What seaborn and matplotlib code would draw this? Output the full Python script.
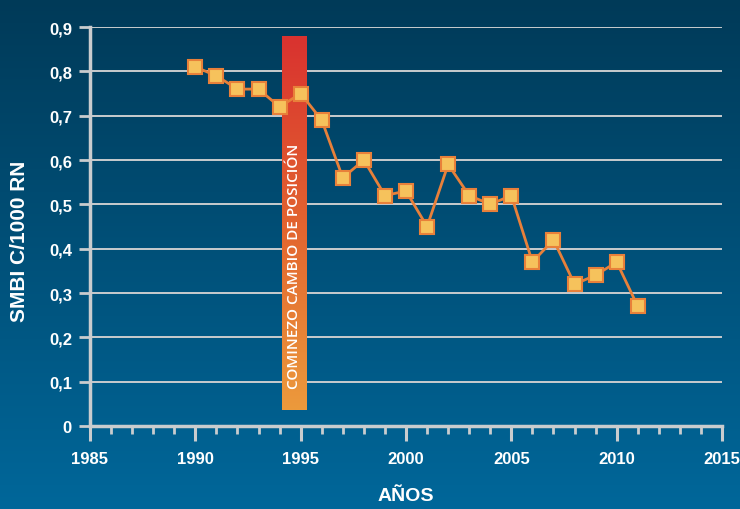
import numpy as np
import matplotlib
matplotlib.use("Agg")
import matplotlib.pyplot as plt
from matplotlib.colors import LinearSegmentedColormap
from matplotlib.ticker import MultipleLocator, FuncFormatter
import seaborn as sns

years = [1990, 1991, 1992, 1993, 1994, 1995, 1996, 1997, 1998, 1999, 2000,
         2001, 2002, 2003, 2004, 2005, 2006, 2007, 2008, 2009, 2010, 2011]
smbi = [0.81, 0.79, 0.76, 0.76, 0.72, 0.75, 0.69, 0.56, 0.60, 0.52, 0.53,
        0.45, 0.59, 0.52, 0.50, 0.52, 0.37, 0.42, 0.32, 0.34, 0.37, 0.27]

# marker bar for the change of position
bar_years = [1994.1, 1995.25]
bar_range = [0.036, 0.878]
bar_label = "COMINEZO CAMBIO DE POSICIÓN"

sns.set_theme(style="ticks")
plt.rcParams["font.family"] = ["Liberation Sans", "DejaVu Sans"]

fig = plt.figure(figsize=(7.4, 5.1), dpi=100)

# blue gradient background
bg = fig.add_axes([0, 0, 1, 1], zorder=-10)
bg_cmap = LinearSegmentedColormap.from_list("bg", ["#003a58", "#00679a"])
bg.imshow(np.linspace(0, 1, 256).reshape(-1, 1), aspect="auto", cmap=bg_cmap,
          extent=[0, 1, 0, 1], origin="upper")
bg.axis("off")

ax = fig.add_axes([0.1216, 0.1627, 0.8541, 0.7823])
ax.set_facecolor("none")

grid_c = "#c9ccce"
for v in np.arange(0.1, 0.91, 0.1):
    ax.axhline(v, color=grid_c, lw=1.4, zorder=0.5)

# gradient bar
bar_cmap = LinearSegmentedColormap.from_list("bar", ["#d93230", "#e2632f", "#ec9a3c"])
ax.imshow(np.linspace(0, 1, 256).reshape(-1, 1), aspect="auto", cmap=bar_cmap,
          extent=[bar_years[0], bar_years[1], bar_range[0], bar_range[1]],
          origin="upper", zorder=1)
ax.text(sum(bar_years) / 2, bar_range[0] + 0.05, bar_label, rotation=90,
        ha="center", va="bottom", color="white", fontsize=11,
        family=["Open Sans", "DejaVu Sans"], fontweight="semibold", zorder=2)

sns.lineplot(x=years, y=smbi, ax=ax, color="#e8803a", lw=2, marker="s",
             markersize=10.5, markerfacecolor="#f6c25c", markeredgecolor="#e8803a",
             markeredgewidth=1.5, zorder=3, clip_on=False)

ax.set_xlim(1985, 2015)
ax.set_ylim(0, 0.9)
ax.xaxis.set_major_locator(MultipleLocator(5))
ax.xaxis.set_minor_locator(MultipleLocator(1))
ax.yaxis.set_major_locator(MultipleLocator(0.1))
ax.yaxis.set_major_formatter(FuncFormatter(
    lambda v, p: "0" if abs(v) < 1e-9 else f"{v:.1f}".replace(".", ",")))

for s in ["top", "right"]:
    ax.spines[s].set_visible(False)
for s in ["left", "bottom"]:
    ax.spines[s].set_color(grid_c)
    ax.spines[s].set_linewidth(2.5)
    ax.spines[s].set_zorder(2.5)

ax.tick_params(axis="x", which="major", length=11, width=2.2, color=grid_c,
               labelcolor="white", labelsize=12, pad=7)
ax.tick_params(axis="x", which="minor", length=6, width=2, color=grid_c)
ax.tick_params(axis="y", which="major", length=8, width=2, color=grid_c,
               labelcolor="white", labelsize=12, pad=5)
for lab in ax.get_xticklabels() + ax.get_yticklabels():
    lab.set_fontweight("bold")

ax.set_xlabel("AÑOS", color="white", fontsize=14, fontweight="bold")
ax.set_ylabel("SMBI C/1000 RN", color="white", fontsize=15, fontweight="bold")
ax.xaxis.set_label_coords(0.5, -0.175)
ax.yaxis.set_label_coords(-0.111, 0.466)
ax.xaxis.label.set_va("center")
ax.yaxis.label.set_va("center")

fig.savefig("out.png", dpi=100)
